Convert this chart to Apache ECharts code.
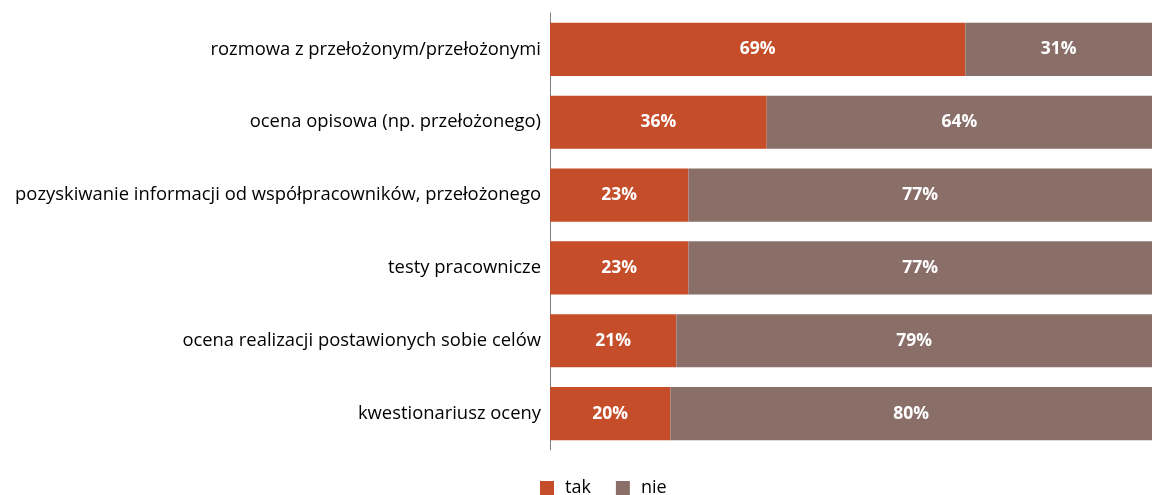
<!DOCTYPE html>
<html>
<head>
<meta charset="utf-8">
<script src="https://cdn.jsdelivr.net/npm/echarts@6/dist/echarts.min.js"></script>
<style>
  html, body { margin: 0; padding: 0; background: #ffffff; }
  #chart { width: 1152px; height: 495px; }
</style>
</head>
<body>
<div id="chart"></div>
<script>
// Assessment methods, share of answers "tak" / "nie" (percent)
const categories = [
  'rozmowa z przełożonym/przełożonymi',
  'ocena opisowa (np. przełożonego)',
  'pozyskiwanie informacji od współpracowników, przełożonego',
  'testy pracownicze',
  'ocena realizacji postawionych sobie celów',
  'kwestionariusz oceny'
];
const takValues = [69, 36, 23, 23, 21, 20];
const nieValues = [31, 64, 77, 77, 79, 80];
const seriesNames = ['tak', 'nie'];

const FONT = 'Open Sans';
const chart = echarts.init(document.getElementById('chart'));

const valueLabel = {
  show: true,
  position: 'inside',
  formatter: p => p.value + '%',
  color: '#ffffff',
  fontWeight: 'bold',
  fontSize: 17.5,
  fontFamily: FONT
};

chart.setOption({
  animation: false,
  grid: { left: 550, right: 0, top: 13, bottom: 45, containLabel: false },
  legend: {
    top: 474,
    left: 535,
    itemWidth: 14,
    itemHeight: 14,
    itemGap: 25,
    icon: 'rect',
    textStyle: { fontFamily: FONT, fontSize: 18, color: '#000000', padding: [0, 0, 0, 6] },
    data: seriesNames
  },
  xAxis: {
    type: 'value',
    min: 0,
    max: 100,
    show: false
  },
  yAxis: {
    type: 'category',
    inverse: true,
    data: categories,
    axisLine: { show: true, lineStyle: { color: '#7f7f7f', width: 1 } },
    axisTick: { show: false },
    axisLabel: { color: '#000000', fontFamily: FONT, fontSize: 18.4, margin: 9 }
  },
  series: [
    {
      name: seriesNames[0],
      type: 'bar',
      stack: 'total',
      barCategoryGap: '27%',
      data: takValues,
      itemStyle: { color: '#C54D2A' },
      label: valueLabel
    },
    {
      name: seriesNames[1],
      type: 'bar',
      stack: 'total',
      barCategoryGap: '27%',
      data: nieValues,
      itemStyle: { color: '#8A6E68' },
      label: valueLabel
    }
  ]
});
</script>
</body>
</html>
